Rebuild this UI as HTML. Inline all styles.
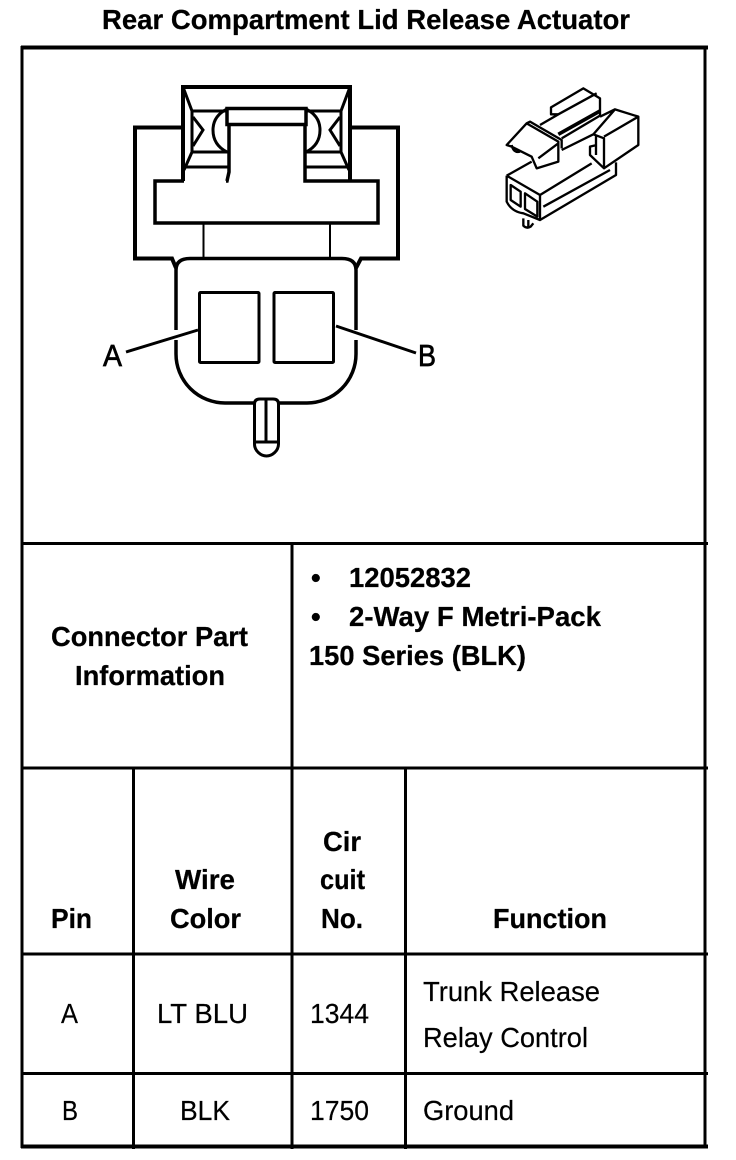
<!DOCTYPE html>
<html><head><meta charset="utf-8">
<style>
html,body{margin:0;padding:0;background:#fff}
svg{display:block}
text{font-family:"Liberation Sans",sans-serif;font-size:27.5px;fill:#000}
.b{font-weight:bold;stroke:#000;stroke-width:.25px}
.r{stroke:#000;stroke-width:.2px}
</style></head>
<body>
<svg width="736" height="1160" viewBox="0 0 736 1160" xmlns="http://www.w3.org/2000/svg">
<rect width="736" height="1160" fill="#fff"/>
<g stroke="#000" fill="none" stroke-width="3">
<path d="M22 46V1148M705 46V1148" stroke-width="3"/>
<path d="M21 47.500H708" stroke-width="4"/>
<path d="M21 543.500H708M21 768H708M21 954H708M21 1073.500H708"/>
<path d="M21 1146.500H708" stroke-width="4"/>
<path d="M292 543V1149M133.500 768V1149M405.500 768V1149"/>
</g>
<text class="b" x="102" y="29" textLength="528" lengthAdjust="spacingAndGlyphs">Rear Compartment Lid Release Actuator</text>
<text class="b" x="51" y="646" textLength="197" lengthAdjust="spacingAndGlyphs">Connector Part</text>
<text class="b" x="75" y="685" textLength="150" lengthAdjust="spacingAndGlyphs">Information</text>
<text class="b" x="311" y="587">•</text>
<text class="b" x="349" y="587" textLength="122" lengthAdjust="spacingAndGlyphs">12052832</text>
<text class="b" x="311" y="626">•</text>
<text class="b" x="349" y="626" textLength="252" lengthAdjust="spacingAndGlyphs">2-Way F Metri-Pack</text>
<text class="b" x="309" y="665" textLength="217" lengthAdjust="spacingAndGlyphs">150 Series (BLK)</text>
<text class="b" x="51" y="928" textLength="41" lengthAdjust="spacingAndGlyphs">Pin</text>
<text class="b" x="175" y="889" textLength="60" lengthAdjust="spacingAndGlyphs">Wire</text>
<text class="b" x="170" y="928" textLength="71" lengthAdjust="spacingAndGlyphs">Color</text>
<text class="b" x="323" y="851" textLength="38" lengthAdjust="spacingAndGlyphs">Cir</text>
<text class="b" x="320" y="889" textLength="45" lengthAdjust="spacingAndGlyphs">cuit</text>
<text class="b" x="321" y="928" textLength="42" lengthAdjust="spacingAndGlyphs">No.</text>
<text class="b" x="493" y="928" textLength="114" lengthAdjust="spacingAndGlyphs">Function</text>
<text class="r" x="61" y="1023" textLength="17" lengthAdjust="spacingAndGlyphs">A</text>
<text class="r" x="157" y="1023" textLength="91" lengthAdjust="spacingAndGlyphs">LT BLU</text>
<text class="r" x="310" y="1023" textLength="59" lengthAdjust="spacingAndGlyphs">1344</text>
<text class="r" x="423" y="1001" textLength="177" lengthAdjust="spacingAndGlyphs">Trunk Release</text>
<text class="r" x="423" y="1047" textLength="165" lengthAdjust="spacingAndGlyphs">Relay Control</text>
<text class="r" x="62" y="1120" textLength="16" lengthAdjust="spacingAndGlyphs">B</text>
<text class="r" x="180" y="1120" textLength="50" lengthAdjust="spacingAndGlyphs">BLK</text>
<text class="r" x="310" y="1120" textLength="59" lengthAdjust="spacingAndGlyphs">1750</text>
<text class="r" x="423" y="1120" textLength="91" lengthAdjust="spacingAndGlyphs">Ground</text>

<g stroke="#000" fill="none" stroke-width="3">
<path d="M183 181V87H350V181" stroke-width="4"/>
<path d="M183 127.500H135V258.500H172L176 268M350 127.500H398V258.500H361L356 268" stroke-width="4"/>
<path d="M184 181H155V223H378V181H305V125M226 181H227L229 172V125" stroke-width="3.500"/>
<rect x="227" y="108.500" width="79" height="16" stroke-width="3.500"/>
<path d="M183 87L192 111V152L184 170M192 111H227M192 152H229M184 167H229"/>
<path d="M350 87L341 111V152L349 170M341 111H306M341 152H304M349 167H304"/>
<path d="M193 117L203 130L193 146M340 117L330 130L340 146"/>
<path d="M227 109Q213 116 213 130Q213 145 227 152M306 109Q320 116 320 130Q320 145 306 152"/>
<path d="M203.500 223V258M330 223V258" stroke-width="2"/>
<path d="M176 330V270Q176 258.500 190 258.500H342Q356 258.500 356 270V330M176 340V354A49 49 0 0 0 225 403H254M279 403H307A49 49 0 0 0 356 354V340" stroke-width="3.500"/>
<rect x="199.500" y="292.500" width="59.500" height="70" rx="1"/>
<rect x="274" y="292.500" width="59.500" height="70" rx="1"/>
<path d="M126 352L198 330M336 326L416 353"/>
<path d="M254.500 404Q254.500 399 260 399H273Q278.500 399 278.500 404V444C278.500 451 272 456 266.500 456C261 456 254.500 451 254.500 444ZM254.500 442H278.500M266 399V442"/>
</g>
<text x="103" y="366" style="font-size:31px;stroke:#000;stroke-width:.7px" textLength="19" lengthAdjust="spacingAndGlyphs">A</text>
<text x="418" y="366" style="font-size:31px;stroke:#000;stroke-width:.7px" textLength="18" lengthAdjust="spacingAndGlyphs">B</text>

<g transform="translate(490 75) scale(.33333)" stroke="#000" fill="none" stroke-width="7" stroke-linejoin="round">
<path d="M150 150L205 118H183V97L280 40L330 70V125"/>
<path d="M205 118L320 55M215 190L330 122" />
<path d="M205 178L330 108" stroke-width="11"/>
<path d="M215 225L310 178L342 190V280L300 240V215L320 210M310 178L375 103L445 125V210L342 280M342 185L445 125M330 125L375 103M318 178V240"/>
<path d="M50 210L110 145L205 200V260L140 280L125 245L65 215ZM110 145L120 140L215 195V220M145 250L205 205M65 210Q70 235 90 230"/>
<path d="M50 302L125 260M50 302V380Q65 410 100 415L150 435V360L50 302M150 360L305 265M150 435L378 300V262M160 395L360 285"/>
<path d="M62 330L92 350V395L62 375ZM105 355L142 380V425L105 402Z"/>
<path d="M100 430V452Q110 462 122 455L130 445M115 435V455"/>
</g>
</svg>
</body></html>
